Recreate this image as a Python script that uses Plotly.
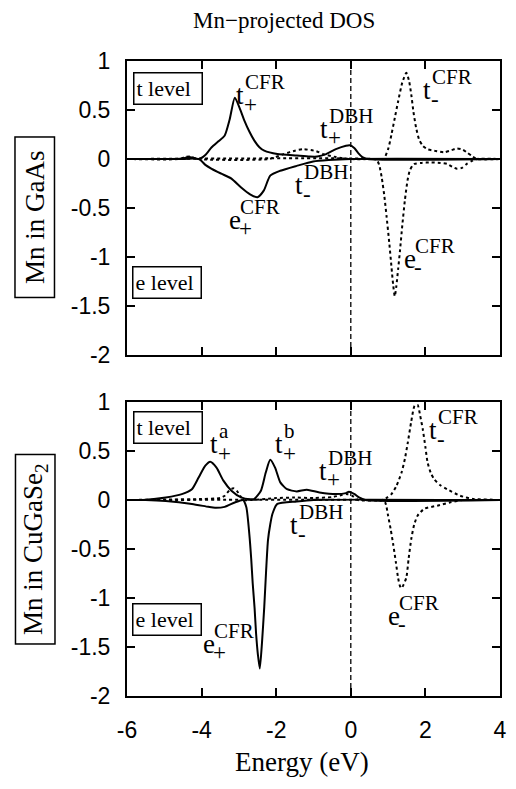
import plotly.graph_objects as go

# ---------------- data ----------------
# Mn in GaAs
gaas_t_up_x = [-6, -4.8, -4.5, -4.34, -4.2, -4.07, -3.9, -3.73, -3.55, -3.38, -3.25, -3.11, -2.98, -2.85, -2.72, -2.59, -2.45, -2.32, -1.97, -1.45, -1.1, -0.9, -0.66, -0.4, -0.13, -0.03, 0.1, 0.2, 0.31, 0.45, 4]
gaas_t_up_y = [0, 0, 0.005, 0.02, 0.01, 0.0, 0.04, 0.12, 0.18, 0.24, 0.4, 0.625, 0.52, 0.39, 0.28, 0.19, 0.12, 0.085, 0.05, 0.035, 0.025, 0.025, 0.05, 0.1, 0.135, 0.14, 0.11, 0.06, 0.02, 0, 0]
gaas_e_up_x = [-6, -4.5, -4.07, -3.9, -3.73, -3.47, -3.2, -2.94, -2.7, -2.5, -2.33, -2.16, -1.89, -1.45, -1.01, -0.6, 0, 4]
gaas_e_up_y = [0, 0, 0, -0.06, -0.1, -0.15, -0.2, -0.29, -0.36, -0.39, -0.32, -0.17, -0.12, -0.07, -0.025, -0.01, 0, 0]
gaas_t_dn_x = [-6, -4.6, -4.45, -4.3, -4.1, -2.2, -1.8, -1.5, -1.27, -0.93, -0.74, -0.4, -0.05, 0.7, 0.88, 1.0, 1.09, 1.18, 1.27, 1.38, 1.49, 1.56, 1.62, 1.68, 1.75, 1.83, 1.93, 2.05, 2.24, 2.5, 2.7, 2.85, 3.0, 3.11, 3.25, 3.38, 4]
gaas_t_dn_y = [0, 0, 0.02, 0.025, 0, 0, 0.05, 0.085, 0.1, 0.08, 0.05, 0.02, 0.0, 0, 0, 0.1, 0.25, 0.42, 0.59, 0.78, 0.88, 0.8, 0.66, 0.48, 0.32, 0.2, 0.135, 0.1, 0.085, 0.068, 0.09, 0.108, 0.095, 0.068, 0.03, 0, 0]
gaas_e_dn_x = [-6, 0.6, 0.7, 0.76, 0.83, 0.9, 0.96, 1.03, 1.09, 1.14, 1.18, 1.22, 1.27, 1.32, 1.38, 1.45, 1.52, 1.58, 1.65, 1.71, 1.9, 2.15, 2.4, 2.58, 2.72, 2.85, 2.98, 3.11, 3.25, 3.38, 4]
gaas_e_dn_y = [0, 0, -0.01, -0.06, -0.19, -0.38, -0.59, -0.85, -1.1, -1.3, -1.40, -1.3, -1.12, -0.93, -0.68, -0.42, -0.22, -0.12, -0.07, -0.05, -0.04, -0.035, -0.04, -0.05, -0.08, -0.10, -0.09, -0.05, -0.02, 0, 0]

# Mn in CuGaSe2
cgs_t_up_x = [-6, -5.57, -4.96, -4.53, -4.26, -4.08, -3.9, -3.77, -3.6, -3.42, -3.2, -2.94, -2.7, -2.59, -2.41, -2.28, -2.16, -2.03, -1.89, -1.71, -1.45, -1.18, -0.84, -0.39, -0.13, -0.05, 0.1, 0.22, 0.39, 4]
cgs_t_up_y = [0, 0, 0.026, 0.06, 0.11, 0.23, 0.35, 0.39, 0.33, 0.2, 0.095, 0.027, 0.008, 0.01, 0.095, 0.28, 0.41, 0.33, 0.18, 0.11, 0.088, 0.105, 0.077, 0.06, 0.07, 0.085, 0.06, 0.026, 0, 0]
cgs_e_up_x = [-6, -5.5, -4.96, -4.26, -3.82, -3.64, -3.38, -3.11, -2.89, -2.8, -2.72, -2.67, -2.63, -2.58, -2.54, -2.49, -2.44, -2.38, -2.32, -2.27, -2.22, -2.16, -2.1, -1.97, -1.45, -1.0, 4]
cgs_e_up_y = [0, 0, -0.01, -0.04, -0.07, -0.08, -0.07, -0.025, 0, -0.075, -0.35, -0.6, -0.85, -1.1, -1.36, -1.58, -1.72, -1.45, -1.09, -0.72, -0.41, -0.25, -0.14, -0.04, -0.015, 0, 0]
cgs_t_dn_x = [-6, -5.0, -4.0, -3.5, -3.38, -3.25, -3.15, -3.05, -2.94, -2.85, -2.0, -1.5, -1.0, -0.5, -0.25, -0.1, 0.05, 0.2, 0.83, 0.95, 1.09, 1.22, 1.36, 1.45, 1.53, 1.62, 1.71, 1.79, 1.86, 1.93, 2.0, 2.06, 2.15, 2.24, 2.4, 2.58, 2.93, 3.29, 4]
cgs_t_dn_y = [0, 0.005, 0.01, 0.02, 0.044, 0.1, 0.12, 0.09, 0.027, 0, 0.02, 0.025, 0.02, 0.03, 0.05, 0.06, 0.04, 0.0, 0, 0.02, 0.06, 0.14, 0.28, 0.42, 0.59, 0.8, 0.96, 0.97, 0.86, 0.72, 0.54, 0.38, 0.27, 0.21, 0.15, 0.11, 0.044, 0.01, 0]
cgs_e_dn_x = [-6, 0.6, 0.8, 0.92, 1.0, 1.07, 1.14, 1.21, 1.27, 1.32, 1.36, 1.42, 1.49, 1.55, 1.62, 1.7, 1.79, 1.97, 2.32, 2.67, 3.0, 4]
cgs_e_dn_y = [0, 0, -0.005, -0.024, -0.16, -0.3, -0.46, -0.64, -0.8, -0.88, -0.9, -0.86, -0.79, -0.6, -0.4, -0.25, -0.16, -0.09, -0.058, -0.024, 0, 0]

x_tick_vals = [-6, -4, -2, 0, 2, 4]
x_tick_text = ["-6", "-4", "-2", "0", "2", "4"]
y_tick_vals = [1, 0.5, 0, -0.5, -1, -1.5, -2]
y_tick_text = ["1", "0.5", "0", "-0.5", "-1", "-1.5", "-2"]

# ---------------- layout geometry ----------------
# the page body has an 8px margin, so the figure is placed at (8, 8)
OFF = 8
W, H = 516 - OFF, 789 - OFF
ML, MR, MT, MB = 127 - OFF, 9, 61 - OFF, 93
PW = W - ML - MR
PH = H - MT - MB


def pxx(px):  # page x -> paper x
    return (px - OFF - ML) / PW


def pxy(py):  # page y -> paper y
    return (H - MB - (py - OFF)) / PH


SERIF = "Liberation Serif, Times New Roman, serif"
SANS = "Liberation Sans, Arial, sans-serif"

fig = go.Figure()

solid = dict(color="black", width=2)
dotted = dict(color="black", width=2, dash="3px,3px")

for xs, ys, ln, ax in [
    (gaas_e_up_x, gaas_e_up_y, solid, ("x", "y")),
    (gaas_t_dn_x, gaas_t_dn_y, dotted, ("x", "y")),
    (gaas_e_dn_x, gaas_e_dn_y, dotted, ("x", "y")),
    (gaas_t_up_x, gaas_t_up_y, solid, ("x", "y")),
    (cgs_e_up_x, cgs_e_up_y, solid, ("x2", "y2")),
    (cgs_t_dn_x, cgs_t_dn_y, dotted, ("x2", "y2")),
    (cgs_e_dn_x, cgs_e_dn_y, dotted, ("x2", "y2")),
    (cgs_t_up_x, cgs_t_up_y, solid, ("x2", "y2")),
]:
    fig.add_trace(go.Scatter(x=xs, y=ys, mode="lines", line=dict(ln, shape="spline", smoothing=0.6),
                             xaxis=ax[0], yaxis=ax[1], showlegend=False, hoverinfo="skip"))

axis_common = dict(range=[-6, 4], tickvals=x_tick_vals, ticktext=x_tick_text, ticks="inside", ticklen=8,
                   tickwidth=1.5, tickcolor="black", showline=True, linecolor="black", linewidth=2, mirror="ticks",
                   showgrid=False, zeroline=False, tickfont=dict(family=SANS, size=23, color="black"))
yaxis_common = dict(range=[-2, 1], tickvals=y_tick_vals, ticktext=y_tick_text, ticks="inside", ticklen=8,
                    tickwidth=1.5, tickcolor="black", showline=True, linecolor="black", linewidth=2, mirror="ticks",
                    showgrid=False, zeroline=False, tickfont=dict(family=SANS, size=23, color="black"),
                    ticklabelstandoff=10)

top_dom = [pxy(355), 1.0]
bot_dom = [0.0, pxy(402)]

fig.update_layout(
    width=W, height=H, margin=dict(l=ML, r=MR, t=MT, b=MB),
    paper_bgcolor="white", plot_bgcolor="white",
    xaxis=dict(axis_common, anchor="y", showticklabels=False),
    yaxis=dict(yaxis_common, domain=top_dom, anchor="x"),
    xaxis2=dict(axis_common, anchor="y2", ticklabelstandoff=12),
    yaxis2=dict(yaxis_common, domain=bot_dom, anchor="x2"),
)

# vertical dashed line at Fermi level
for xr, yr in [("x", "y"), ("x2", "y2")]:
    fig.add_shape(type="line", xref=xr, yref=yr + " domain", x0=0, x1=0, y0=0, y1=1,
                  line=dict(color="black", width=1.3, dash="5px,3px"))

ann = []


def lab(xr, yr, x, y, base, sub, sup):
    ys = 4
    ann.append(dict(xref=xr, yref=yr, x=x, y=y, text=base, showarrow=False, xanchor="center", yanchor="middle",
                    yshift=ys, font=dict(family=SERIF, size=27, color="black")))
    ann.append(dict(xref=xr, yref=yr, x=x, y=y, text=sup, showarrow=False, xanchor="left", yanchor="middle",
                    xshift=3, yshift=ys + 13, font=dict(family=SERIF, size=21, color="black")))
    ann.append(dict(xref=xr, yref=yr, x=x, y=y, text=sub, showarrow=False, xanchor="left", yanchor="middle",
                    xshift=2, yshift=ys - 9, font=dict(family=SERIF, size=23, color="black")))


# top panel labels
lab("x", "y", -2.97, 0.61, "t", "+", "CFR")
lab("x", "y", 2.05, 0.66, "t", "-", "CFR")
lab("x", "y", -0.71, 0.27, "t", "+", "DBH")
lab("x", "y", -1.39, -0.31, "t", "-", "DBH")
lab("x", "y", -3.11, -0.66, "e", "+", "CFR")
lab("x", "y", 1.58, -1.06, "e", "-", "CFR")
# bottom panel labels
lab("x2", "y2", -3.68, 0.53, "t", "+", "a")
lab("x2", "y2", -1.92, 0.53, "t", "+", "b")
lab("x2", "y2", -0.74, 0.26, "t", "+", "DBH")
lab("x2", "y2", -1.53, -0.30, "t", "-", "DBH")
lab("x2", "y2", -3.79, -1.51, "e", "+", "CFR")
lab("x2", "y2", 1.16, -1.22, "e", "-", "CFR")
lab("x2", "y2", 2.21, 0.67, "t", "-", "CFR")

# level boxes
for text, cx, cy in [("t level", 168.5, 88), ("e level", 167.5, 282), ("t level", 168.5, 427), ("e level", 167.5, 619)]:
    ann.append(dict(xref="paper", yref="paper", x=pxx(cx), y=pxy(cy), text=text, showarrow=False,
                    xanchor="center", yanchor="middle", width=63, height=26, align="left",
                    bordercolor="black", borderwidth=1.5, borderpad=2, bgcolor="white",
                    font=dict(family=SERIF, size=22, color="black")))

# panel (y) titles
for text, cy, w in [("Mn in GaAs", 217.5, 155), ("Mn in CuGaSe<sub>2</sub>", 549, 184)]:
    ann.append(dict(xref="paper", yref="paper", x=pxx(33), y=pxy(cy), text=text, showarrow=False,
                    xanchor="center", yanchor="middle", textangle=-90, width=w, height=34,
                    bordercolor="black", borderwidth=1.5, borderpad=2,
                    font=dict(family=SERIF, size=27, color="black")))

# title and x-axis title
ann.append(dict(xref="paper", yref="paper", x=pxx(287), y=pxy(20), text="Mn\u2212projected DOS", showarrow=False,
                xanchor="center", yanchor="middle", font=dict(family=SERIF, size=23, color="black")))
ann.append(dict(xref="paper", yref="paper", x=pxx(305), y=pxy(762), text="Energy (eV)", showarrow=False,
                xanchor="center", yanchor="middle", font=dict(family=SERIF, size=27, color="black")))

fig.update_layout(annotations=ann)
fig.write_html("out.html")
